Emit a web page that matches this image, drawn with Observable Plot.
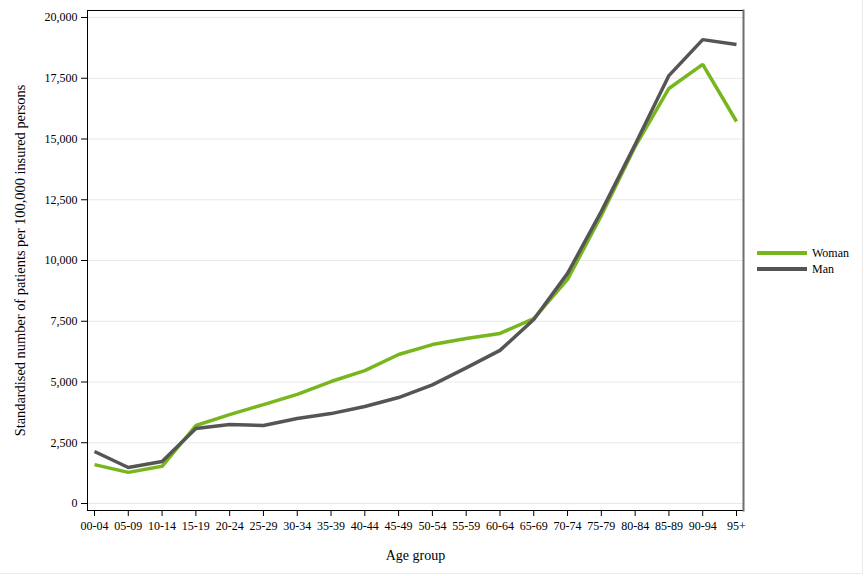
<!DOCTYPE html>
<html>
<head>
<meta charset="utf-8">
<script src="https://cdn.jsdelivr.net/npm/d3@7"></script>
<script src="https://cdn.jsdelivr.net/npm/@observablehq/plot@0.6"></script>
<style>
  html, body { margin: 0; padding: 0; background: #fff; }
  #wrap { position: relative; width: 864px; height: 576px; overflow: hidden; font-family: "Liberation Serif", "Times New Roman", serif; }
  #chart svg { max-width: none; display: block; }
  #border { position: absolute; left: 0; top: 0; width: 862px; height: 573px; border-right: 1px solid #ebebeb; border-bottom: 1px solid #ebebeb; pointer-events: none; }
  #legend { position: absolute; left: 757px; top: 245px; font-family: "Liberation Serif", "Times New Roman", serif; font-size: 12px; color: #000; }
  .item { display: flex; align-items: center; height: 16px; }
  .swatch { width: 50px; height: 4px; margin-right: 5px; }
</style>
</head>
<body>
<div id="wrap">
  <div id="chart"></div>
  <div id="legend"></div>
  <div id="border"></div>
</div>
<script>
const ageGroups = ["00-04","05-09","10-14","15-19","20-24","25-29","30-34","35-39","40-44","45-49","50-54","55-59","60-64","65-69","70-74","75-79","80-84","85-89","90-94","95+"];
const woman = [1600, 1280, 1530, 3210, 3660, 4070, 4490, 5020, 5470, 6130, 6540, 6790, 7000, 7610, 9220, 11850, 14690, 17080, 18070, 15720];
const man   = [2140, 1480, 1730, 3090, 3250, 3210, 3500, 3700, 3990, 4360, 4880, 5580, 6300, 7570, 9470, 12020, 14770, 17610, 19090, 18890];
const seriesNames = ["Woman", "Man"];
const seriesColors = ["#78b61e", "#555555"];
const yTicks = [0, 2500, 5000, 7500, 10000, 12500, 15000, 17500, 20000];

const data = [];
ageGroups.forEach((g, i) => {
  data.push({age: g, value: woman[i], sex: "Woman"});
  data.push({age: g, value: man[i], sex: "Man"});
});

const chart = Plot.plot({
  width: 864,
  height: 576,
  marginLeft: 87,
  marginRight: 121,
  marginTop: 10,
  marginBottom: 66,
  style: {fontFamily: "'Liberation Serif', 'Times New Roman', serif", fontSize: "12px", color: "#000", background: "transparent"},
  x: {type: "point", domain: ageGroups, padding: 0, round: false, insetLeft: 7, insetRight: 7},
  y: {domain: [0, 20000], insetTop: 7, insetBottom: 7},
  color: {domain: seriesNames, range: seriesColors},
  marks: [
    Plot.gridY(yTicks, {stroke: "#e8e8e8", strokeOpacity: 1}),
    Plot.axisY(yTicks, {tickSize: 6, tickPadding: 4, fontSize: 12, label: null, tickFormat: d3.format(","), stroke: "#000"}),
    Plot.axisX({tickSize: 6, tickPadding: 5, fontSize: 12, label: null, stroke: "#000"}),
    Plot.line(data, {x: "age", y: "value", z: "sex", stroke: "sex", strokeWidth: 3.5, strokeLinejoin: "miter", strokeLinecap: "butt"}),
    Plot.frame({stroke: "#000", strokeWidth: 1}),
    Plot.frame({anchor: "right", stroke: "#6e6e6e", strokeWidth: 2}),
    Plot.text(["Standardised number of patients per 100,000 insured persons"], {frameAnchor: "left", rotate: -90, dx: -67, fontSize: 14.4, textAnchor: "middle", lineAnchor: "middle"}),
    Plot.text(["Age group"], {frameAnchor: "bottom", dy: 45, fontSize: 14, textAnchor: "middle", lineAnchor: "middle"})
  ]
});
document.getElementById("chart").appendChild(chart);

const legend = document.getElementById("legend");
seriesNames.forEach((n, i) => {
  const item = document.createElement("div");
  item.className = "item";
  const sw = document.createElement("span");
  sw.className = "swatch";
  sw.style.background = seriesColors[i];
  const lbl = document.createElement("span");
  lbl.textContent = n;
  item.appendChild(sw);
  item.appendChild(lbl);
  legend.appendChild(item);
});
</script>
</body>
</html>
